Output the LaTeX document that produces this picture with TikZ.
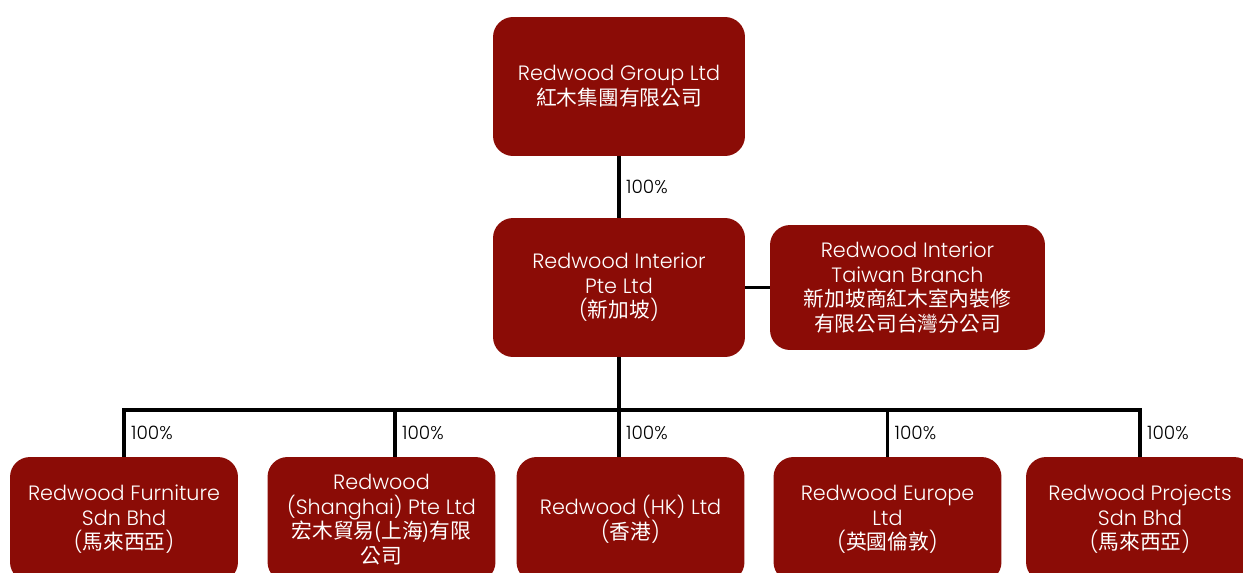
\documentclass[tikz,border=0pt]{standalone}
\usepackage{fontspec}
\setmainfont{Poppins}[UprightFont=* Light]
\newfontfamily\cjk{Noto Sans CJK TC}
\usetikzlibrary{positioning}

\begin{document}
\begin{tikzpicture}[x=0.02cm, y=-0.02cm,
    company/.style={fill=redwood, text=white, rounded corners=0.4cm, align=center,
        inner sep=0pt, minimum width=4.56cm, minimum height=2.5cm,
        font=\fontsize{11.8}{14}\selectfont},
    pct/.style={font=\fontsize{10.5}{12}\selectfont, anchor=west, inner sep=1pt, xshift=2pt},
    link/.style={line width=2.2pt}]
    % Colors
    \definecolor{redwood}{RGB}{139,12,6}

    % Page
    \useasboundingbox (0,0) rectangle (1243,572);

    % Holding companies
    \node[company, minimum width=5.04cm, minimum height=2.78cm] (group) at (619,86.5)
      {Redwood Group Ltd\\{\cjk 紅木集團有限公司}};
    \node[company, minimum width=5.04cm, minimum height=2.78cm] (interior) at (619,287.5)
      {Redwood Interior\\Pte Ltd\\({\cjk 新加坡})};
    \node[company, minimum width=5.5cm] (taiwan) at (907.5,287.5)
      {Redwood Interior\\Taiwan Branch\\{\cjk 新加坡商紅木室內裝修}\\{\cjk 有限公司台灣分公司}};

    % Subsidiaries
    \node[company] (furniture) at (124,519.5)
      {Redwood Furniture\\Sdn Bhd\\({\cjk 馬來西亞})};
    \node[company] (shanghai) at (381.5,519.5)
      {Redwood\\(Shanghai) Pte Ltd\\{\cjk 宏木貿易(上海)有限}\\{\cjk 公司}};
    \node[company] (hk) at (630.5,519.5)
      {Redwood (HK) Ltd\\({\cjk 香港})};
    \node[company] (europe) at (887.5,519.5)
      {Redwood Europe\\Ltd\\({\cjk 英國倫敦})};
    \node[company] (projects) at (1140,519.5)
      {Redwood Projects\\Sdn Bhd\\({\cjk 馬來西亞})};

    % Links
    \coordinate (bus) at (619,410);
    \coordinate (drop2) at (395,410);
    \draw[link] (group) -- node[pct] {100\%} (interior);
    \draw[link] (interior) -- (taiwan);
    \draw[link] (interior) -- (bus);
    \draw[link] (furniture.north) -- node[pct] {100\%} (furniture.north |- bus)
      -- (projects.north |- bus) -- node[pct] {100\%} (projects.north);
    \draw[link] (drop2) -- node[pct] {100\%} (drop2 |- shanghai.north);
    \draw[link] (bus) -- node[pct] {100\%} (bus |- hk.north);
    \draw[link] (europe.north |- bus) -- node[pct] {100\%} (europe.north);
\end{tikzpicture}
\end{document}
